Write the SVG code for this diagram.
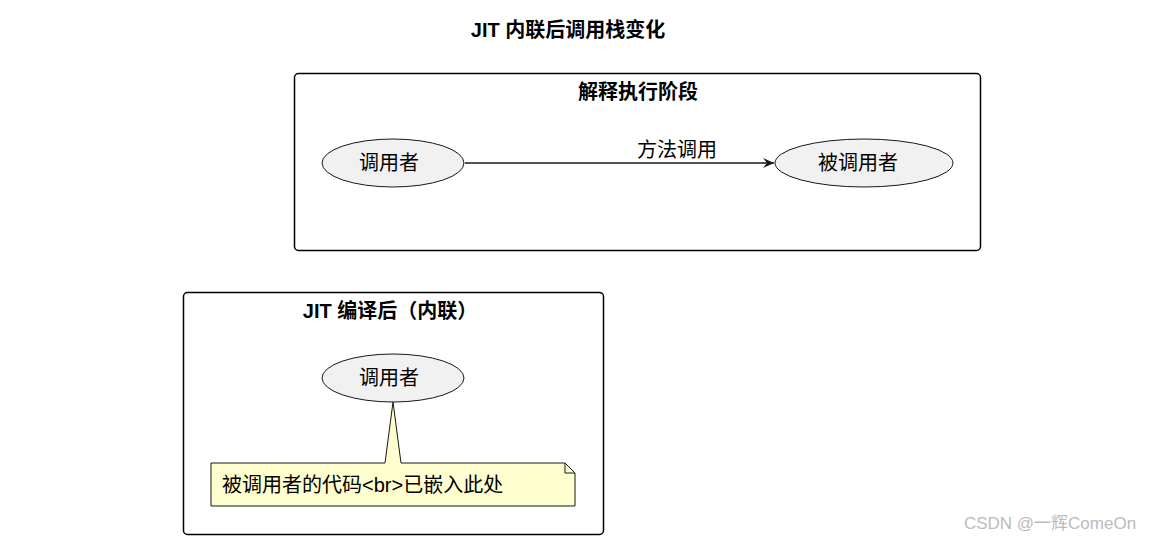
<svg xmlns="http://www.w3.org/2000/svg" width="1160" height="542" viewBox="0 0 1160 542">
<style>
text{font-family:"Liberation Sans","Noto Sans CJK SC",sans-serif;fill:#000}
.frame{fill:none;stroke:#000;stroke-width:1.5}
.uc{fill:#f1f1f1;stroke:#181818;stroke-width:1}
.ft{font-size:20px;font-weight:bold}
.lb{font-size:20px}
</style>
<defs><marker id="ah" markerWidth="12" markerHeight="10" refX="11" refY="5" orient="auto" markerUnits="userSpaceOnUse"><path d="M0,0 L11,5 L0,10 L4,5 Z" fill="#181818"/></marker></defs>
<rect width="1160" height="542" fill="#fff"/>
<text x="568" y="37" text-anchor="middle" class="ft">JIT 内联后调用栈变化</text>
<g id="frame1">
<rect x="294.5" y="73.5" width="686" height="177" rx="4" class="frame"/>
<text x="638" y="99" text-anchor="middle" class="ft">解释执行阶段</text>
</g>
<g id="caller1"><ellipse cx="393" cy="163" rx="71" ry="24" class="uc"/><text x="389" y="170" text-anchor="middle" class="lb">调用者</text></g>
<g id="callee1"><ellipse cx="864" cy="163" rx="89" ry="24" class="uc"/><text x="858" y="170" text-anchor="middle" class="lb">被调用者</text></g>
<g id="frame2">
<rect x="183.5" y="292.5" width="420" height="242" rx="4" class="frame"/>
<text x="390" y="318" text-anchor="middle" class="ft">JIT 编译后（内联）</text>
</g>
<g id="caller2"><ellipse cx="393" cy="378" rx="71" ry="24" class="uc"/><text x="389" y="385" text-anchor="middle" class="lb">调用者</text></g>
<g id="note">
<path d="M211,463 L385,463 L393,402 L401,463 L565,463 L575,473 L575,506 L211,506 Z" fill="#fefece" stroke="#181818" stroke-width="1"/>
<path d="M565,463 L565,473 L575,473" fill="none" stroke="#181818" stroke-width="1"/>
<text x="222" y="492" class="lb">被调用者的代码&lt;br&gt;已嵌入此处</text>
</g>
<g id="connectors">
<line x1="465" y1="163" x2="774" y2="163" stroke="#181818" stroke-width="1.5" marker-end="url(#ah)"/>
<text x="677" y="157" text-anchor="middle" class="lb">方法调用</text>
</g>
<text x="1050" y="529" text-anchor="middle" style="font-size:17px;fill:#bbb">CSDN @一辉ComeOn</text>
</svg>
